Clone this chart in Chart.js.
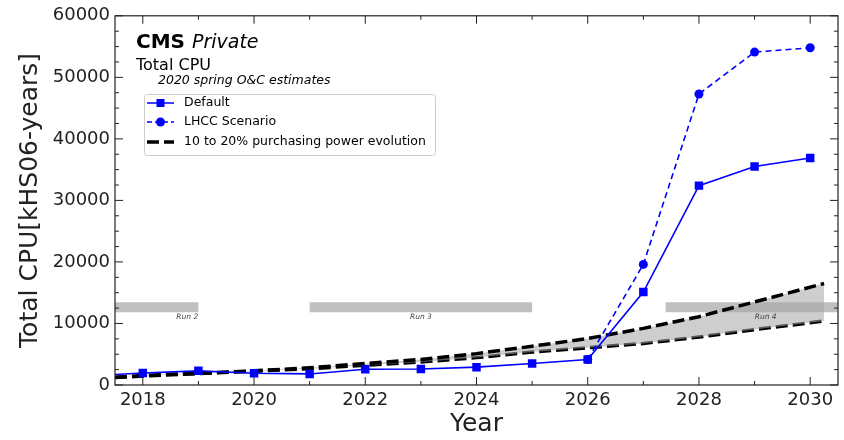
<!DOCTYPE html>
<html>
<head>
<meta charset="utf-8">
<script src="https://cdn.jsdelivr.net/npm/chart.js@4.4.1/dist/chart.umd.min.js"></script>
<style>
  html, body { margin: 0; padding: 0; background: #fff; }
  canvas { display: block; }
</style>
</head>
<body>
<canvas id="chartCpu" width="844" height="440"></canvas>
<script>
const anios = [2017, 2018, 2019, 2020, 2021, 2022, 2023, 2024, 2025, 2026, 2027, 2028, 2029, 2030];
const cpuDefault = [1450, 1950, 2300, 1900, 1800, 2550, 2600, 2900, 3500, 4150, 15100, 32400, 35500, 36900];
const cpuLhcc = [null, null, null, null, null, null, null, null, null, 4150, 19600, 47300, 54100, 54800];

const aniosPoder = [2017.5, 2018, 2019, 2020, 2021, 2022, 2023, 2024, 2025, 2026, 2027, 2028, 2029, 2030.25];
const poderAlto = [1250, 1550, 1900, 2300, 2800, 3500, 4150, 5100, 6300, 7550, 9200, 11100, 13500, 16500];
const poderBajo = [1200, 1450, 1850, 2250, 2650, 3200, 3750, 4450, 5350, 6050, 6750, 7800, 9000, 10400];

const corridas = ['Run 2', 'Run 3', 'Run 4'];
const corridaInicio = [2016, 2021, 2027.4];
const corridaFin = [2019, 2025, 2032];
const corridaEtiquetaX = [2018.8, 2023, 2029.2];
const corridaNivel = 12650;

const etiquetas = ['Default', 'LHCC Scenario', '10 to 20% purchasing power evolution'];

const FUENTE = '"DejaVu Sans", sans-serif';
const AZUL = '#0000ff';

function puntos(xs, ys) {
  return xs.map((x, i) => ({ x: x, y: ys[i] }));
}

const datasetsCorridas = corridas.map((c, i) => ({
  label: c,
  data: [{ x: corridaInicio[i], y: corridaNivel }, { x: corridaFin[i], y: corridaNivel }],
  borderColor: 'rgba(150,150,150,0.6)',
  borderWidth: 10,
  borderCapStyle: 'butt',
  pointRadius: 0,
  fill: false,
  clip: 0,
  order: 5
}));

// marco, ticks hacia adentro, textos y leyenda
const decoracion = {
  id: 'decoracion',
  afterDraw(chart) {
    const ctx = chart.ctx;
    const a = chart.chartArea;
    const sx = chart.scales.x;
    const sy = chart.scales.y;
    ctx.save();

    // etiquetas de las corridas
    ctx.font = 'italic 7.5px ' + FUENTE;
    ctx.fillStyle = '#444';
    ctx.textAlign = 'center';
    ctx.textBaseline = 'middle';
    corridas.forEach((c, i) => {
      ctx.fillText(c, sx.getPixelForValue(corridaEtiquetaX[i]), sy.getPixelForValue(corridaNivel) + 10);
    });

    // marco
    ctx.strokeStyle = '#222';
    ctx.lineWidth = 1.2;
    ctx.strokeRect(a.left, a.top, a.right - a.left, a.bottom - a.top);

    ctx.lineWidth = 1;
    const tick = (x1, y1, x2, y2) => {
      ctx.beginPath(); ctx.moveTo(x1, y1); ctx.lineTo(x2, y2); ctx.stroke();
    };
    for (let v = 2018; v <= 2030; v++) {
      const px = sx.getPixelForValue(v);
      const len = v % 2 === 0 ? 8 : 4;
      tick(px, a.bottom, px, a.bottom - len);
      tick(px, a.top, px, a.top + len);
    }
    for (let v = 0; v <= 60000; v += 2500) {
      const py = sy.getPixelForValue(v);
      const len = v % 10000 === 0 ? 8 : 4;
      tick(a.left, py, a.left + len, py);
      tick(a.right, py, a.right - len, py);
    }

    // textos
    ctx.textAlign = 'left';
    ctx.textBaseline = 'alphabetic';
    ctx.fillStyle = '#000';
    ctx.font = 'bold 20px ' + FUENTE;
    ctx.fillText('CMS', 136, 48);
    const anchoCms = ctx.measureText('CMS ').width;
    ctx.font = 'italic 19px ' + FUENTE;
    ctx.fillText('Private', 136 + anchoCms, 48);
    ctx.font = '16px ' + FUENTE;
    ctx.fillText('Total CPU', 136, 70);
    ctx.font = 'italic 12.5px ' + FUENTE;
    ctx.fillText('2020 spring O&C estimates', 158, 84);

    // leyenda
    ctx.fillStyle = 'rgba(255,255,255,0.85)';
    ctx.strokeStyle = '#cccccc';
    ctx.lineWidth = 1;
    ctx.beginPath();
    ctx.roundRect(144.5, 94.5, 291, 61, 3);
    ctx.fill();
    ctx.stroke();

    const filas = [103, 122, 142];
    ctx.font = '12.5px ' + FUENTE;
    ctx.textBaseline = 'middle';
    filas.forEach((fy, i) => {
      ctx.save();
      if (i === 2) {
        ctx.strokeStyle = '#000';
        ctx.lineWidth = 3.5;
        ctx.setLineDash([12, 5]);
      } else {
        ctx.strokeStyle = AZUL;
        ctx.lineWidth = 1.5;
        if (i === 1) ctx.setLineDash([5, 3]);
      }
      ctx.beginPath();
      ctx.moveTo(147, fy);
      ctx.lineTo(174, fy);
      ctx.stroke();
      ctx.restore();
      ctx.fillStyle = AZUL;
      if (i === 0) ctx.fillRect(156.5, fy - 4, 8, 8);
      if (i === 1) { ctx.beginPath(); ctx.arc(160.5, fy, 4.5, 0, Math.PI * 2); ctx.fill(); }
      ctx.fillStyle = '#000';
      ctx.fillText(etiquetas[i], 184, fy);
    });

    ctx.restore();
  }
};

new Chart(document.getElementById('chartCpu').getContext('2d'), {
  type: 'line',
  data: {
    datasets: [
      {
        label: etiquetas[2],
        data: puntos(aniosPoder, poderAlto),
        borderColor: '#000',
        borderWidth: 3.5,
        borderDash: [12, 5],
        pointRadius: 0,
        fill: '+1',
        backgroundColor: 'rgba(165,165,165,0.55)',
        clip: 0,
        order: 3
      },
      {
        label: etiquetas[2] + ' (bajo)',
        data: puntos(aniosPoder, poderBajo),
        borderColor: '#000',
        borderWidth: 3.5,
        borderDash: [12, 5],
        pointRadius: 0,
        fill: false,
        clip: 0,
        order: 3
      },
      {
        label: etiquetas[0],
        data: puntos(anios, cpuDefault),
        borderColor: AZUL,
        backgroundColor: AZUL,
        borderWidth: 1.6,
        pointStyle: 'rect',
        pointRadius: 6,
        pointBorderWidth: 0,
        fill: false,
        clip: 0,
        order: 1
      },
      {
        label: etiquetas[1],
        data: puntos(anios, cpuLhcc),
        borderColor: AZUL,
        backgroundColor: AZUL,
        borderWidth: 1.6,
        borderDash: [6, 4],
        pointStyle: 'circle',
        pointRadius: 4.5,
        pointBorderWidth: 0,
        fill: false,
        clip: 0,
        order: 2
      },
      ...datasetsCorridas
    ]
  },
  options: {
    responsive: false,
    animation: false,
    layout: { padding: { top: 14, right: 6, left: 0, bottom: 0 } },
    elements: { line: { tension: 0 } },
    plugins: {
      legend: { display: false },
      tooltip: { enabled: false }
    },
    scales: {
      x: {
        type: 'linear',
        min: 2017.5,
        max: 2030.5,
        afterFit: s => { s.height = 55; },
        grid: { display: false, drawTicks: false },
        border: { display: false },
        ticks: {
          stepSize: 2,
          includeBounds: false,
          padding: 5,
          color: '#222',
          font: { family: FUENTE, size: 18 },
          callback: v => String(v)
        },
        title: {
          display: true,
          text: 'Year',
          color: '#222',
          padding: { top: 0, bottom: 1 },
          font: { family: FUENTE, size: 25 }
        }
      },
      y: {
        min: 0,
        max: 60000,
        afterFit: s => { s.width = 115; },
        grid: { display: false, drawTicks: false },
        border: { display: false },
        ticks: {
          stepSize: 10000,
          padding: 5,
          color: '#222',
          font: { family: FUENTE, size: 18 },
          callback: v => String(v)
        },
        title: {
          display: true,
          text: 'Total CPU[kHS06-years]',
          color: '#222',
          padding: { top: 15, bottom: 0 },
          font: { family: FUENTE, size: 25 }
        }
      }
    }
  },
  plugins: [decoracion]
});
</script>
</body>
</html>
